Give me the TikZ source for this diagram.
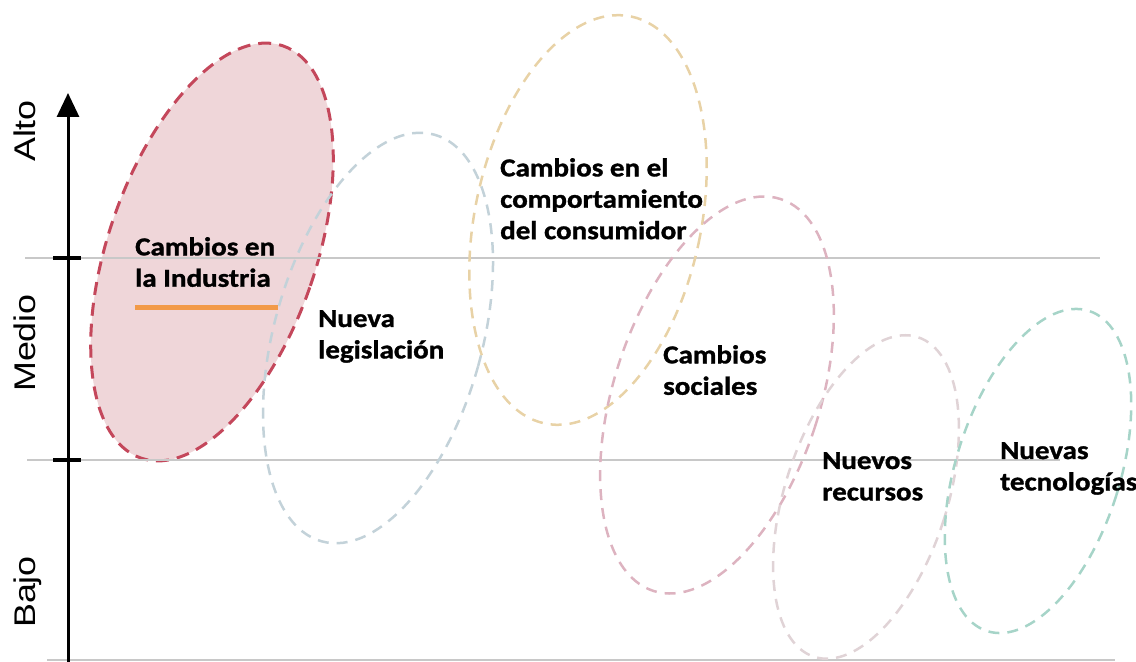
\documentclass[tikz,border=0pt]{standalone}
\usepackage{fontspec}
\setmainfont{Carlito}
\newfontfamily\labfont{Carlito}[FakeStretch=1.12,FakeBold=1.2]
\newfontfamily\axfont{Liberation Sans}[FakeStretch=1.2]
\usetikzlibrary{shapes.geometric,arrows.meta}

\definecolor{indred}{HTML}{C4475B}
\definecolor{indfill}{HTML}{EFD6D9}
\definecolor{legblue}{HTML}{C3D2D9}
\definecolor{consorange}{HTML}{E8D2A6}
\definecolor{socpink}{HTML}{DDB3C0}
\definecolor{recgray}{HTML}{E0D3D6}
\definecolor{tecteal}{HTML}{A6D4C8}
\definecolor{levelgray}{HTML}{C8C8C8}
\definecolor{barorange}{HTML}{F29A48}

\begin{document}
\begin{tikzpicture}[
            x=1bp, y=1bp,
            zone/.style={ellipse, draw, inner sep=0pt, line width=2.5bp, dash pattern=on 11bp off 8bp},
            txt/.style={anchor=north west, inner sep=0pt, align=left, font=\labfont\bfseries\fontsize{26}{31.5}\selectfont},
            levtxt/.style={anchor=base, rotate=90, inner sep=0pt, font=\axfont\fontsize{30}{30}\selectfont},
            level/.style={levelgray, line width=2bp},
            yaxis/.style={-{Triangle[width=22bp,length=24bp]}, line width=3bp},
            axtick/.style={line width=3.5bp}
            ]
            \useasboundingbox (0,0) rectangle (1136,662);

            % Highlighted zone
            \node[zone, draw=indred, fill=indfill, line width=3bp, dash pattern=on 13bp off 8bp,
                  minimum width=208bp, minimum height=436bp, rotate=-19] (industria) at (212,410) {};

            % Level lines
            \draw[level] (25,404) -- (1100,404);
            \draw[level] (27,202) -- (1060,202);
            \draw[level] (47,2) -- (1115,2);

            % Other zones
            \node[zone, draw=legblue, minimum width=208bp, minimum height=422bp, rotate=-15.5] (legislacion) at (378,324) {};
            \node[zone, draw=consorange, minimum width=226bp, minimum height=416bp, rotate=-12] (consumidor) at (588,442) {};
            \node[zone, draw=socpink, minimum width=206bp, minimum height=412bp, rotate=-18] (sociales) at (717,267) {};
            \node[zone, draw=recgray, minimum width=162bp, minimum height=336bp, rotate=-18] (recursos) at (866,165) {};
            \node[zone, draw=tecteal, minimum width=164bp, minimum height=336bp, rotate=-17.6] (tecnologias) at (1038,191) {};

            % Axis
            \coordinate (ybot) at (68,0);
            \coordinate (ytop) at (68,569);
            \draw[yaxis] (ybot) -- (ytop);
            \draw[axtick] (53,404) -- (81,404);
            \draw[axtick] (53,202) -- (81,202);

            \node[levtxt] (alto) at (35,531) {Alto};
            \node[levtxt] (medio) at (35,319) {Medio};
            \node[levtxt] (bajo) at (35,70) {Bajo};

            % Labels
            \node[txt] (t-industria) at (135,425) {Cambios en\\la Industria};
            \draw[barorange, line width=5bp] (135,354) -- (278,354);
            \node[txt] (t-legislacion) at (318,352) {Nueva\\legislación};
            \node[txt] (t-consumidor) at (500,504) {Cambios en el\\comportamiento\\del consumidor};
            \node[txt] (t-sociales) at (663,317) {Cambios\\sociales};
            \node[txt] (t-recursos) at (822,210) {Nuevos\\recursos};
            \node[txt] (t-tecnologias) at (1000,220) {Nuevas\\tecnologías};

        \end{tikzpicture}
\end{document}
